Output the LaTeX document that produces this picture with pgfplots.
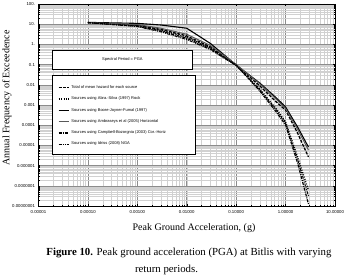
\documentclass[border=0pt]{standalone}
\usepackage{fontspec}
\setmainfont{Liberation Serif}
\newfontfamily\arial{Liberation Sans}
\usepackage{pgfplots}
\pgfplotsset{compat=1.18}
\begin{document}
\begin{tikzpicture}[x=1pt,y=1pt]
\useasboundingbox (0,0) rectangle (347,275);
\begin{axis}[
  at={(38.5pt,69pt)}, anchor=south west,
  scale only axis, width=296.5pt, height=202pt,
  xmode=log, ymode=log,
  xmin=1e-5, xmax=10, ymin=1e-8, ymax=100,
  xtick={1e-5,1e-4,1e-3,1e-2,1e-1,1,10},
  xticklabels={0.00001,0.00010,0.00100,0.01000,0.10000,1.00000,10.00000},
  ytick={1e-8,1e-7,1e-6,1e-5,1e-4,1e-3,1e-2,1e-1,1,10,100},
  yticklabels={0.00000001,0.0000001,0.000001,0.00001,0.0001,0.001,0.01,0.1,1.,10.,100.},
  ticklabel style={font=\arial\fontsize{4.3}{5}\selectfont},
  xticklabel style={yshift=-1pt},
  grid=both,
  major grid style={draw=black!45, line width=0.5pt},
  minor grid style={draw=black!18, line width=0.35pt},
  tick style={black, line width=0.4pt},
  major tick length=2pt, minor tick length=1.5pt,
  tick align=inside,
  axis line style={black, line width=0.5pt},
  legend style={at={(rel axis cs:0.062,0.612)}, anchor=north west, draw=none, fill=none,
    font=\arial\fontsize{4}{5}\selectfont, row sep=2.9pt, inner sep=1pt,
    /tikz/every even column/.append style={column sep=1pt}},
  legend cell align=left,
  legend image code/.code={\draw[#1] (0pt,0pt) -- (10pt,0pt);},
]
\draw[black, line width=0.5pt, fill=white] (rel axis cs:0.0455,0.678) rectangle (rel axis cs:0.520,0.772);
\node[font=\arial\fontsize{4}{5}\selectfont] at (rel axis cs:0.283,0.725) {Spectral Period = PGA};
\draw[black, line width=0.5pt, fill=white] (rel axis cs:0.0455,0.257) rectangle (rel axis cs:0.528,0.6485);

% Total of mean hazard
\addplot[black, line width=1.3pt, dash pattern=on 3pt off 1.3pt] coordinates {
(0.0001,12.0) (0.001,8.91) (0.003,5.50) (0.01,2.63) (0.03,0.759) (0.1,0.0955)
(0.3,0.00891) (0.65,0.00141) (1.0,0.000562) (1.75,4.07e-5) (2.9,2.69e-6)};
\addlegendentry{Total of mean hazard for each source}
% Abra-Silva
\addplot[black, line width=1.3pt, dash pattern=on 1pt off 1.4pt] coordinates {
(0.0001,12.0) (0.001,8.51) (0.003,5.01) (0.01,2.29) (0.03,0.661) (0.1,0.0912)
(0.3,0.00631) (0.65,0.000631) (1.0,0.000145) (1.75,2.69e-6) (2.9,6.17e-8)};
\addlegendentry{Sources using Abra.-Silva (1997) Rock}
% Boore-Joyner-Fumal
\addplot[black, line width=1.1pt] coordinates {
(0.0001,12.3) (0.001,11.0) (0.003,9.12) (0.01,6.31) (0.03,1.12) (0.1,0.0955)
(0.3,0.0123) (0.65,0.00224) (1.0,0.000794) (1.75,8.13e-5) (2.9,8.32e-6)};
\addlegendentry{Sources using Boore-Joyner-Fumal (1997)}
% Ambraseys
\addplot[black!65, line width=1.0pt] coordinates {
(0.0001,12.0) (0.001,9.55) (0.003,6.31) (0.01,3.16) (0.03,0.891) (0.1,0.1)
(0.3,0.0112) (0.65,0.00191) (1.0,0.000661) (1.75,6.31e-5) (2.9,5.89e-6)};
\addlegendentry{Sources using Ambraseys et al (2005) Horizontal}
% Campbell-Bozorgnia
\addplot[black, line width=1.2pt, dash pattern=on 3pt off 1pt on 1pt off 1pt] coordinates {
(0.0001,12.0) (0.001,7.94) (0.003,4.57) (0.01,2.0) (0.03,0.603) (0.1,0.0955)
(0.3,0.00501) (0.65,0.000447) (1.0,0.000102) (1.75,1.35e-6) (2.9,1.26e-8)};
\addlegendentry{Sources using Campbell-Bozorgnia (2003) Cor.-Horiz}
% Idriss
\addplot[black, line width=0.9pt, dash pattern=on 3pt off 1pt on 1pt off 1pt on 1pt off 1pt] coordinates {
(0.0001,12.0) (0.001,7.59) (0.003,4.17) (0.01,1.74) (0.03,0.550) (0.1,0.0891)
(0.3,0.00562) (0.65,0.000562) (1.0,0.000126) (1.75,2.0e-6) (2.9,3.16e-8)};
\addlegendentry{Sources using Idriss (2008) NGA}
\end{axis}
\node[font=\fontsize{10}{12}\selectfont] at (194,47) {Peak Ground Acceleration, (g)};
\node[font=\fontsize{10}{12}\selectfont, rotate=90] at (7,177) {Annual Frequency of Exceedence};
\node[font=\fontsize{10.8}{12}\selectfont] at (189,22) {\textbf{Figure 10.} Peak ground acceleration (PGA) at Bitlis with varying};
\node[font=\fontsize{10.8}{12}\selectfont] at (166.5,5) {return periods.};
\end{tikzpicture}
\end{document}
